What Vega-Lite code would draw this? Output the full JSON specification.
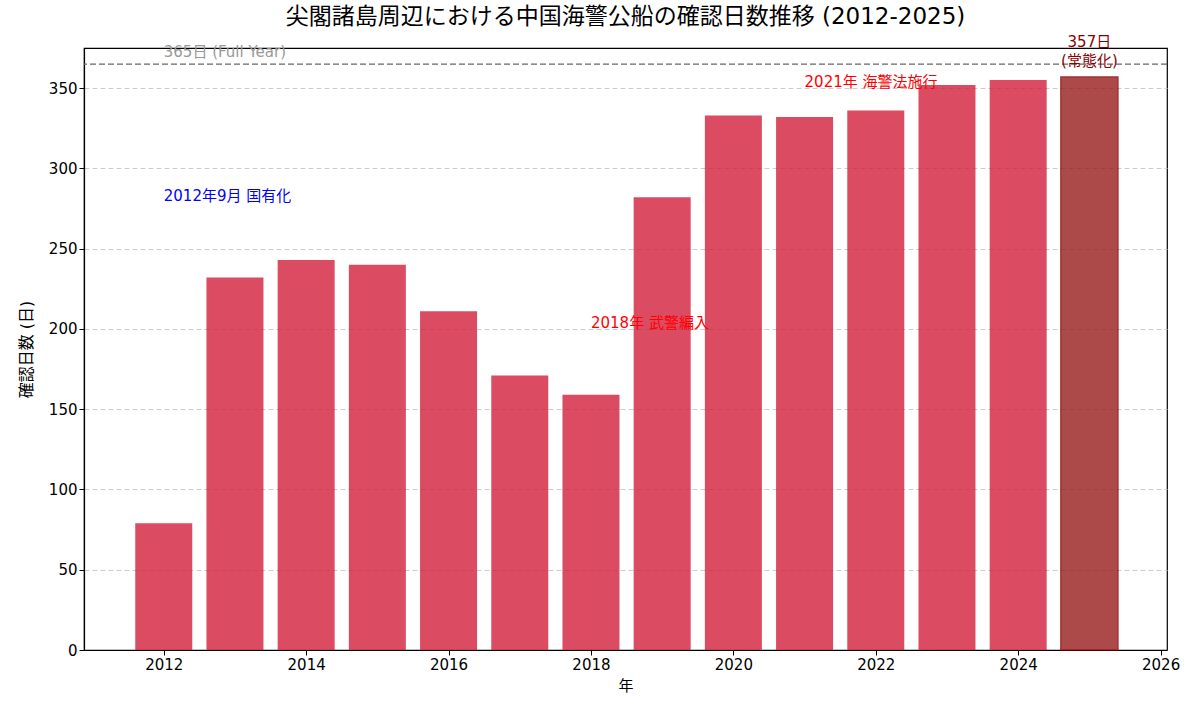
{
  "$schema": "https://vega.github.io/schema/vega-lite/v6.json",
  "autosize": "none",
  "width": 1083,
  "height": 602,
  "padding": {"left": 84, "top": 48, "right": 33, "bottom": 70},
  "background": "white",
  "config": {
    "font": "DejaVu Sans, Noto Sans CJK JP",
    "view": {"stroke": "black", "strokeWidth": 1.2},
    "axis": {
      "labelFont": "DejaVu Sans, Noto Sans CJK JP",
      "titleFont": "DejaVu Sans, Noto Sans CJK JP",
      "labelFontSize": 15,
      "titleFontSize": 15,
      "titleFontWeight": "normal",
      "labelColor": "black",
      "titleColor": "black",
      "domain": true,
      "domainColor": "black",
      "domainWidth": 1.2,
      "tickColor": "black",
      "tickSize": 5,
      "tickWidth": 1
    }
  },
  "title": {
    "text": "尖閣諸島周辺における中国海警公船の確認日数推移 (2012-2025)",
    "fontSize": 23,
    "fontWeight": "normal",
    "font": "DejaVu Sans, Noto Sans CJK JP",
    "color": "black",
    "anchor": "middle",
    "offset": 6
  },
  "datasets": {
    "days": [
      {"year": 2012, "days": 79, "status": "通常"},
      {"year": 2013, "days": 232, "status": "通常"},
      {"year": 2014, "days": 243, "status": "通常"},
      {"year": 2015, "days": 240, "status": "通常"},
      {"year": 2016, "days": 211, "status": "通常"},
      {"year": 2017, "days": 171, "status": "通常"},
      {"year": 2018, "days": 159, "status": "通常"},
      {"year": 2019, "days": 282, "status": "通常"},
      {"year": 2020, "days": 333, "status": "通常"},
      {"year": 2021, "days": 332, "status": "通常"},
      {"year": 2022, "days": 336, "status": "通常"},
      {"year": 2023, "days": 352, "status": "通常"},
      {"year": 2024, "days": 355, "status": "通常"},
      {"year": 2025, "days": 357, "status": "最新"}
    ]
  },
  "layer": [
    {
      "data": {"name": "days"},
      "mark": {"type": "bar", "width": 57, "opacity": 0.8, "strokeWidth": 1.5},
      "encoding": {
        "x": {
          "field": "year",
          "type": "quantitative",
          "title": "年",
          "scale": {"domain": [2010.88, 2026.09], "nice": false, "zero": false, "padding": 0},
          "axis": {"values": [2012, 2014, 2016, 2018, 2020, 2022, 2024, 2026], "format": "d", "grid": false, "titlePadding": 6}
        },
        "y": {
          "field": "days",
          "type": "quantitative",
          "title": "確認日数 (日)",
          "scale": {"domain": [0, 375], "nice": false},
          "axis": {
            "values": [0, 50, 100, 150, 200, 250, 300, 350],
            "grid": true,
            "gridDash": [5, 3],
            "gridColor": "#cccccc",
            "gridWidth": 1,
            "titleFontSize": 16,
            "titlePadding": 14
          }
        },
        "fill": {
          "field": "status",
          "type": "nominal",
          "scale": {"domain": ["通常", "最新"], "range": ["#d31f3b", "#981e1e"]},
          "legend": null
        },
        "stroke": {
          "field": "status",
          "type": "nominal",
          "scale": {"domain": ["通常", "最新"], "range": ["transparent", "#8b0000"]},
          "legend": null
        }
      }
    },
    {
      "data": {"values": [{"days": 365}]},
      "mark": {"type": "rule", "color": "#666666", "strokeDash": [6, 3], "strokeWidth": 1.2},
      "encoding": {"y": {"field": "days", "type": "quantitative"}}
    },
    {
      "data": {"values": [{"year": 2012, "days": 372.5, "label": "365日 (Full Year)"}]},
      "mark": {"type": "text", "align": "left", "baseline": "middle", "color": "#999999", "fontSize": 15},
      "encoding": {
        "x": {"field": "year", "type": "quantitative"},
        "y": {"field": "days", "type": "quantitative"},
        "text": {"field": "label"}
      }
    },
    {
      "data": {"values": [{"year": 2012, "days": 283, "label": "2012年9月 国有化"}]},
      "mark": {"type": "text", "align": "left", "baseline": "middle", "color": "blue", "fontSize": 15},
      "encoding": {
        "x": {"field": "year", "type": "quantitative"},
        "y": {"field": "days", "type": "quantitative"},
        "text": {"field": "label"}
      }
    },
    {
      "data": {"values": [
        {"year": 2018, "days": 203.5, "label": "2018年 武警編入"},
        {"year": 2021, "days": 354, "label": "2021年 海警法施行"}
      ]},
      "mark": {"type": "text", "align": "left", "baseline": "middle", "color": "red", "fontSize": 15},
      "encoding": {
        "x": {"field": "year", "type": "quantitative"},
        "y": {"field": "days", "type": "quantitative"},
        "text": {"field": "label"}
      }
    },
    {
      "data": {"values": [{"year": 2025, "days": 378.5, "label": ["357日", "(常態化)"]}]},
      "mark": {"type": "text", "align": "center", "baseline": "middle", "color": "#8b0000", "fontSize": 15, "lineHeight": 19},
      "encoding": {
        "x": {"field": "year", "type": "quantitative"},
        "y": {"field": "days", "type": "quantitative"},
        "text": {"field": "label"}
      }
    }
  ]
}
